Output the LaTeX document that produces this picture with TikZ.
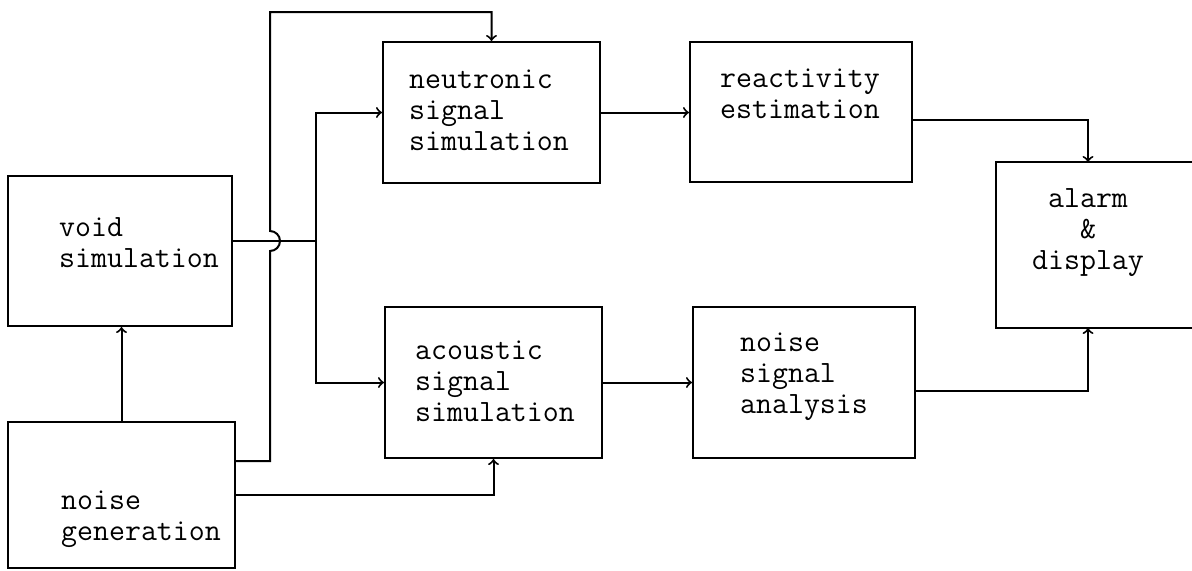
\documentclass[tikz,border=0pt]{standalone}
\usepackage{tikz}

\begin{document}
\begin{tikzpicture}[x=0.5pt, y=-0.5pt, line width=1pt,
    box/.style={draw, rectangle, inner sep=0pt},
    lbl/.style={inner sep=0pt, align=left, font=\ttfamily\fontsize{15.5}{15.5}\selectfont}]
  \useasboundingbox (0,0) rectangle (1192,570);
  \clip (0,0) rectangle (1192,570);

  \node[box, minimum width=112pt,   minimum height=75pt  ](void)  at ( 120, 251  ) { };
  \node[box, minimum width=113.5pt, minimum height=73pt  ](gen)   at ( 121.5, 495) { };
  \node[box, minimum width=108.5pt, minimum height=70.5pt](neut)  at ( 491.5, 112.5) { };
  \node[box, minimum width=111pt,   minimum height=70pt  ](react) at ( 801, 112  ) { };
  \node[box, draw=none, minimum width=116.5pt, minimum height=82pt](alarm) at (1113.5, 245) { };
  \node[box, minimum width=108.5pt, minimum height=75.5pt](acou)  at ( 493.5, 382.5) { };
  \node[box, minimum width=111pt,   minimum height=75.5pt](nsa)   at ( 804, 382.5) { };

  \draw (alarm.north east) -- (alarm.north west) -- (alarm.south west) -- (alarm.south east);

  \node[lbl](voidtxt)  at ( 139, 243) {void\\simulation};
  \node[lbl](gentxt)   at ( 141, 519) {noise\\generation};
  \node[lbl](neuttxt)  at ( 489, 110) {neutronic\\signal\\simulation};
  \node[lbl](reacttxt) at ( 800,  94) {reactivity\\estimation};
  \node[lbl, align=center](alarmtxt) at (1088, 233) {alarm\\\&\\display};
  \node[lbl](acoutxt)  at ( 495, 381) {acoustic\\signal\\simulation};
  \node[lbl](nsatxt)   at ( 804, 377) {noise\\signal\\analysis};

  \coordinate (split) at (316, 241);
  \coordinate (riser) at (270, 461);
  \coordinate (topL)  at (270,  12);

  \draw (void.east |- split) -- (split);
  \draw[->] (split) |- (neut.west);
  \draw[->] (split) |- (acou.west);
  \draw[->] (gen.east |- riser) -- (riser) -- ([yshift=-5pt]riser |- split)
        arc[start angle=-90, end angle=90, radius=5pt] -- (topL) -| (neut.north);
  \draw[->] (gen.north) -- (void.south -| gen.north);
  \draw[->] (gen.east) -| (acou.south);
  \draw[->] (neut.east) -- (react.west |- neut.east);
  \draw[->] (acou.east) -- (nsa.west |- acou.east);
  \draw[->] ([yshift=-4pt]react.east) -| ([xshift=-12.75pt]alarm.north);
  \draw[->] ([yshift=-4pt]nsa.east) -| ([xshift=-12.75pt]alarm.south);
\end{tikzpicture}
\end{document}
